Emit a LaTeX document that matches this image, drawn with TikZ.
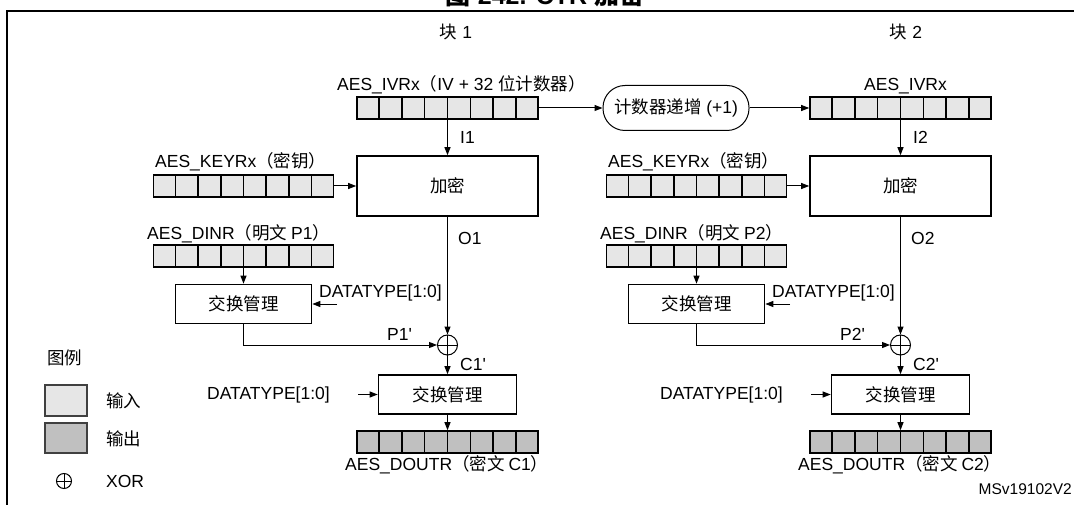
\documentclass[tikz,border=0pt]{standalone}
\usepackage{fontspec}
\setmainfont{Liberation Sans}
\newfontfamily\cjk{Noto Sans CJK SC}
\usepackage{tikz}
\usetikzlibrary{arrows.meta, positioning, calc}
\definecolor{regIn}{RGB}{230,230,230}
\definecolor{regOut}{RGB}{192,192,192}
\newcommand{\zh}[1]{{\cjk #1}}
% 8 cells of a register node
\newcommand{\regcells}[1]{%
  \foreach \k in {1,...,7}
    \draw[line width=1.6pt] ($(#1.north west)!\k/8!(#1.north east)$) -- ($(#1.south west)!\k/8!(#1.south east)$);}
\newcommand{\xorcross}[1]{%
  \draw[line width=1pt] (#1.north) -- (#1.south) (#1.west) -- (#1.east);}
\tikzset{
  reg/.style={draw, line width=1.6pt, minimum width=181pt, minimum height=22pt, inner sep=0pt},
  regin/.style={reg, fill=regIn},
  regout/.style={reg, fill=regOut},
  procbox/.style={draw, line width=1.6pt, inner sep=0pt, fill=white},
  lbl/.style={anchor=west, inner sep=0pt},
  xorsym/.style={draw, circle, line width=1pt, minimum size=20pt, inner sep=0pt},
  link/.style={line width=1pt, -{Triangle[length=8pt,width=6pt]}},
}

\begin{document}
\begin{tikzpicture}[x=1pt, y=-1pt, font=\fontsize{17.5}{21}\selectfont]
  \useasboundingbox (0,0) rectangle (1074,505);

  % -- Title and frame --
  \node[font=\fontsize{25}{28}\selectfont\bfseries, anchor=base] (title) at (545,5)
    {\zh{图} 242. CTR \zh{加密}};
  \draw[line width=2.4pt] (7,520) -- (7,11) -- (1090,11);

  % -- Two blocks (offset 453) --
  \foreach \b/\dx in {1/0pt, 2/453pt} {
    \begin{scope}[xshift=\dx]
      \node[regin] (iv\b) at (447.5,108) {};
      \node[procbox, minimum width=181pt, minimum height=60pt] (enc\b) at (447.5,186) {\zh{加密}};
      \node[regin, minimum width=180pt] (key\b) at (243.5,186) {};
      \node[regin, minimum width=180pt] (din\b) at (243.5,256) {};
      \node[procbox, minimum width=136pt, minimum height=39pt] (swapin\b) at (243.5,304) {\zh{交换管理}};
      \node[xorsym] (xor\b) at (447.5,345) {};
      \node[procbox, minimum width=138pt, minimum height=39pt] (swapout\b) at (447.5,394.5) {\zh{交换管理}};
      \node[regout] (dout\b) at (447.5,442) {};
      \coordinate (dtin\b) at (337,304);
      \coordinate (dtout\b) at (358,394.5);

      \regcells{iv\b}
      \regcells{key\b}
      \regcells{din\b}
      \regcells{dout\b}
      \xorcross{xor\b}

      % labels
      \node[lbl] (keylbl\b) at (155,162) {AES\_KEYRx\zh{（密钥）}};
      \node[lbl] (dinlbl\b) at (147,234) {AES\_DINR\zh{（明文 }P\b\zh{）}};
      \node[lbl] (doutlbl\b) at (345,465) {AES\_DOUTR\zh{（密文 }C\b\zh{）}};
      \node[lbl] (ilbl\b) at (460,137) {I\b};
      \node[lbl] (olbl\b) at (458,238) {O\b};
      \node[lbl] (pdlbl\b) at (387,334) {P\b\textquotesingle};
      \node[lbl] (cdlbl\b) at (460,364) {C\b\textquotesingle};
      \node[lbl] (dtinlbl\b) at (319,293) {DATATYPE[1:0]};
      \node[lbl] (dtoutlbl\b) at (207,395) {DATATYPE[1:0]};

      % connectors
      \draw[link] (iv\b.south) -- (enc\b.north);
      \draw[link] (key\b.east) -- (enc\b.west);
      \draw[link] (din\b.south) -- (swapin\b.north);
      \draw[link] (enc\b.south) -- (xor\b.north);
      \draw[link] (swapin\b.south) |- (xor\b.west);
      \draw[link] (xor\b.south) -- (swapout\b.north);
      \draw[link] (swapout\b.south) -- (dout\b.north);
      \draw[link] (dtin\b) -- (swapin\b.east);
      \draw[link] (dtout\b) -- (swapout\b.west);
    \end{scope}
  }

  % -- Block headers and counter --
  \node (blk1) at (456,32) {\zh{块} 1};
  \node (blk2) at (906,32) {\zh{块} 2};
  \node[lbl] (ivlbl1) at (337,85) {AES\_IVRx\zh{（}IV + 32 \zh{位计数器）}};
  \node[lbl] (ivlbl2) at (864,86) {AES\_IVRx};
  \node[draw, line width=1pt, rounded corners=22pt, minimum width=146pt,
        minimum height=45pt, inner sep=0pt] (ctr) at (676,108) {\zh{计数器递增} (+1)};
  \draw[link] (iv1.east) -- (ctr.west);
  \draw[link] (ctr.east) -- (iv2.west);

  % -- Legend --
  \node[lbl] (legtitle) at (47,358) {\zh{图例}};
  \node[draw=black!75, line width=1.6pt, fill=regIn, minimum width=42pt, minimum height=31pt] (legin) at (66,400.5) {};
  \node[lbl] (leginlbl) at (106,401) {\zh{输入}};
  \node[draw=black!75, line width=1.6pt, fill=regOut, minimum width=42pt, minimum height=30pt] (legout) at (66,438) {};
  \node[lbl] (legoutlbl) at (106,439) {\zh{输出}};
  \node[xorsym, minimum size=15pt] (legxor) at (64,481) {};
  \xorcross{legxor}
  \node[lbl] (legxorlbl) at (106,481) {XOR};

  \node[anchor=east, inner sep=0pt, font=\fontsize{15.5}{18}\selectfont] (docid) at (1072,489) {MSv19102V2};
\end{tikzpicture}
\end{document}
